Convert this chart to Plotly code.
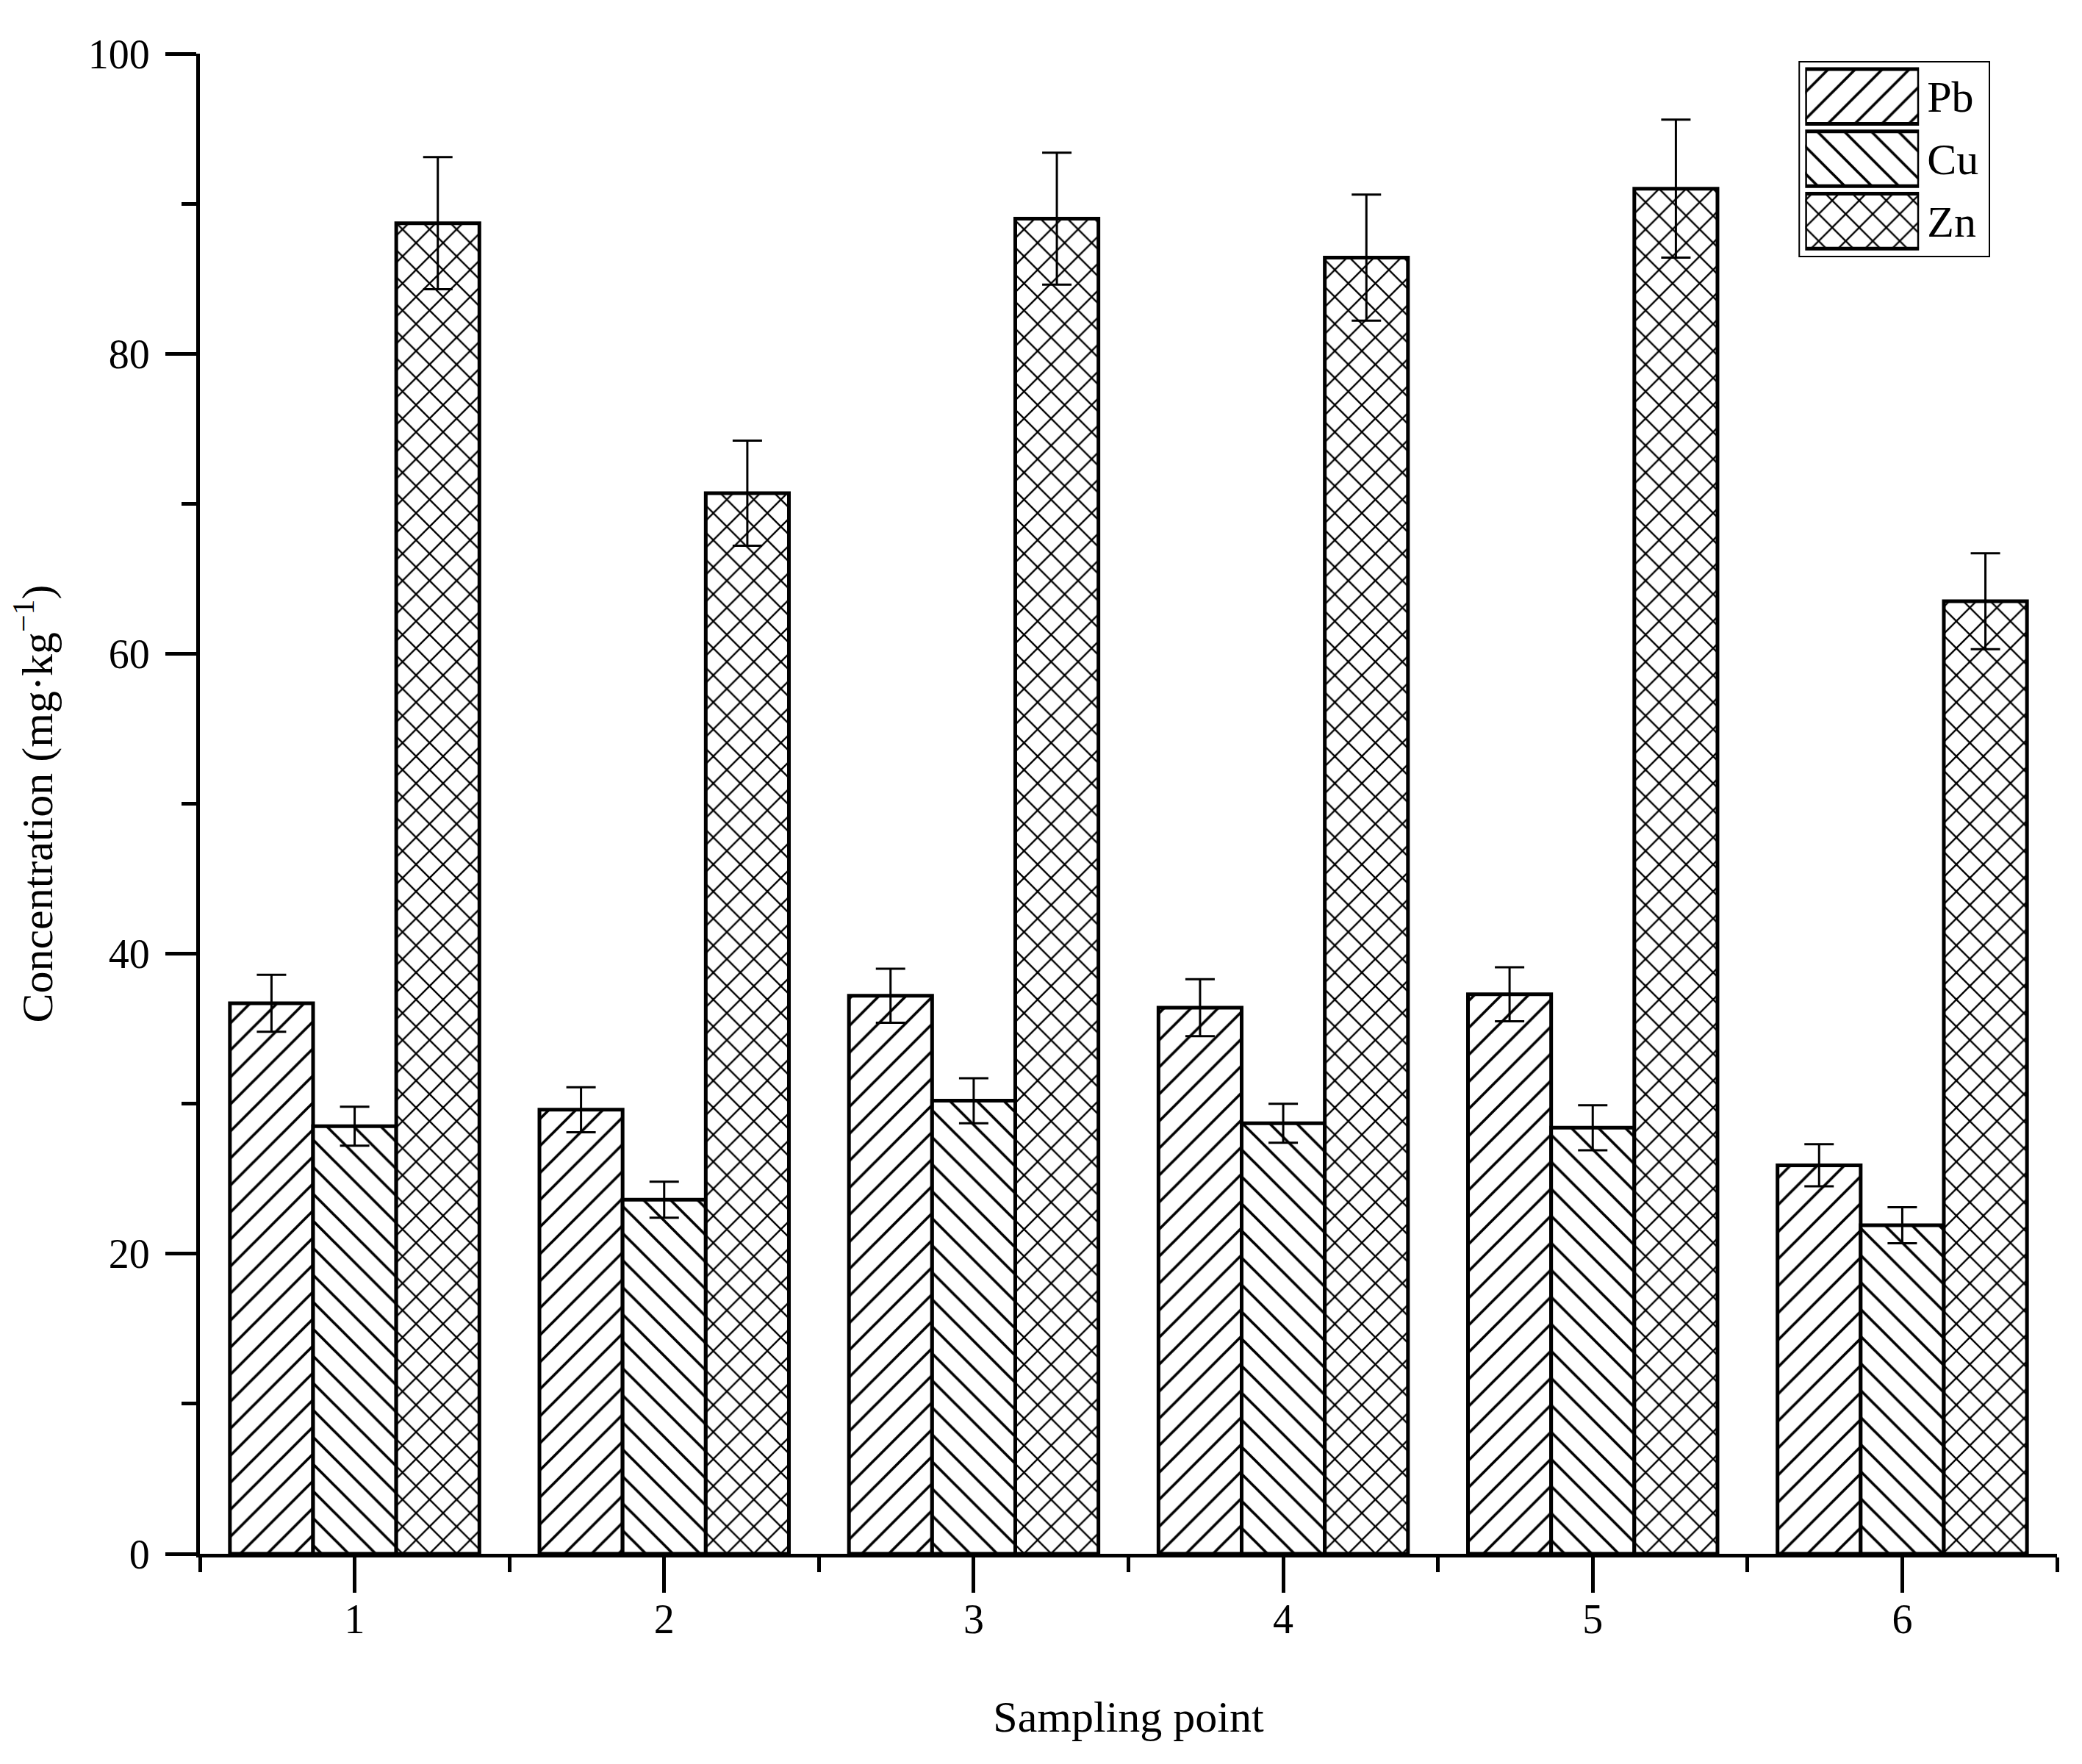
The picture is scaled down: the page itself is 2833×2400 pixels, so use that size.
import plotly.graph_objects as go

points = [1, 2, 3, 4, 5, 6]
pb = [36.7, 29.6, 37.2, 36.4, 37.3, 25.9]
pb_err = [1.9, 1.5, 1.8, 1.9, 1.8, 1.4]
cu = [28.5, 23.6, 30.2, 28.7, 28.4, 21.9]
cu_err = [1.3, 1.2, 1.5, 1.3, 1.5, 1.2]
zn = [88.7, 70.7, 89.0, 86.4, 91.0, 63.5]
zn_err = [4.4, 3.5, 4.4, 4.2, 4.6, 3.2]

metals = ['Pb', 'Cu', 'Zn']
hatches = ['/', '\\', 'x']
hatch_solidity = [0.14, 0.14, 0.17]
legend_swatch = [1, 1, 1]

FONT = 'Liberation Serif'

fig = go.Figure()

for name, vals, errs, shape, sol in zip(metals, [pb, cu, zn], [pb_err, cu_err, zn_err], hatches, hatch_solidity):
    fig.add_trace(go.Bar(
        x=points,
        y=vals,
        name=name,
        showlegend=False,
        marker=dict(color='white', line=dict(color='black', width=5),
                    pattern=dict(shape=shape, fgcolor='black', bgcolor='white', fgopacity=1,
                                 size=26, solidity=sol)),
        error_y=dict(type='data', array=errs, symmetric=True, color='black', thickness=3, width=20),
    ))

# legend drawn as a small inset so the hatch swatches get the right size
fig.add_trace(go.Bar(
    x=legend_swatch,
    y=metals,
    orientation='h',
    width=0.88,
    xaxis='x2',
    yaxis='y2',
    showlegend=False,
    hoverinfo='skip',
    marker=dict(color='white', line=dict(color='black', width=5),
                pattern=dict(shape=hatches, fgcolor='black', bgcolor='white', fgopacity=1,
                             size=26, solidity=hatch_solidity)),
))

# the page body adds 8px, so margins are pulled in by that much
fig.update_layout(
    width=2833,
    height=2400,
    margin=dict(l=264, r=42, t=65, b=294),
    paper_bgcolor='white',
    plot_bgcolor='white',
    font=dict(family=FONT, size=56, color='black'),
    barmode='group',
    bargap=0.194,
    bargroupgap=0,
    xaxis=dict(
        range=[0.5, 6.5],
        tickvals=points,
        ticks='outside',
        ticklen=48,
        tickwidth=5,
        tickcolor='black',
        ticklabelstandoff=-12,
        tickfont=dict(size=56),
        minor=dict(tickvals=[0.5, 1.5, 2.5, 3.5, 4.5, 5.5, 6.5], ticks='outside', ticklen=20,
                   tickwidth=5, tickcolor='black'),
        showline=True,
        linecolor='black',
        linewidth=5,
        showgrid=False,
        zeroline=False,
        title=dict(text='Sampling point', font=dict(size=60), standoff=82),
    ),
    yaxis=dict(
        range=[0, 100],
        dtick=20,
        ticks='outside',
        ticklen=42,
        tickwidth=5,
        tickcolor='black',
        ticklabelstandoff=10,
        tickfont=dict(size=56),
        minor=dict(dtick=10, ticks='outside', ticklen=20, tickwidth=5, tickcolor='black'),
        showline=True,
        linecolor='black',
        linewidth=5,
        showgrid=False,
        zeroline=False,
        title=dict(text='Concentration (mg·kg<sup>−1</sup>)', font=dict(size=60), standoff=30),
    ),
    xaxis2=dict(domain=[0.8644, 0.9257], range=[0, 1], anchor='y2', visible=False, fixedrange=True),
    yaxis2=dict(
        domain=[0.8676, 0.9922],
        anchor='x2',
        type='category',
        categoryorder='array',
        categoryarray=['Zn', 'Cu', 'Pb'],
        range=[-0.5, 2.5],
        side='right',
        ticks='',
        showline=False,
        showgrid=False,
        zeroline=False,
        ticklabelstandoff=10,
        tickfont=dict(size=60),
        fixedrange=True,
    ),
    shapes=[dict(type='rect', xref='paper', yref='paper', x0=0.8612, x1=0.9636, y0=0.8648, y1=0.9946,
                 line=dict(color='black', width=2), layer='below')],
)

fig.write_html('out.html')
